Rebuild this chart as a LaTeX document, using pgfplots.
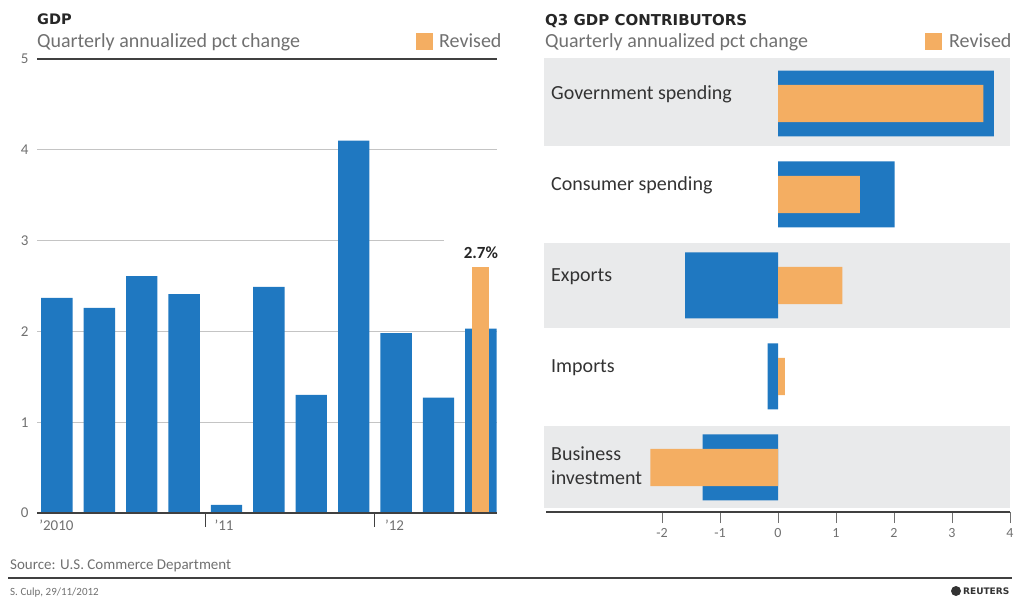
\documentclass[border=0pt]{standalone}
\usepackage{pgfplots}
\pgfplotsset{compat=1.18}
\usepackage{fontspec}
\setmainfont{Carlito}
\newfontfamily\titlefont{DejaVu Sans}
\definecolor{rblue}{HTML}{1F78C1}
\definecolor{rorange}{HTML}{F4AE62}
\definecolor{rband}{HTML}{E9EAEB}
\definecolor{rdark}{HTML}{404040}
\definecolor{rtext}{HTML}{707070}
\definecolor{rgrid}{HTML}{C4C4C4}
\definecolor{rlabel}{HTML}{333333}
\begin{document}
\begin{tikzpicture}
\path[use as bounding box] (0pt,0pt) rectangle (1017pt,598pt);
% ---------- titles ----------
\node[anchor=base west, inner sep=0, font=\titlefont\bfseries\fontsize{14.5}{14.5}\selectfont, text=black!85] at (37pt,573pt) {GDP};
\node[anchor=base west, inner sep=0, font=\fontsize{20}{20}\selectfont, text=rtext] at (37pt,550pt) {Quarterly annualized pct change};
\fill[rorange] (416pt,548pt) rectangle (433pt,565pt);
\node[anchor=base west, inner sep=0, font=\fontsize{20}{20}\selectfont, text=rtext] at (439pt,550pt) {Revised};
\node[anchor=base west, inner sep=0, font=\titlefont\bfseries\fontsize{15}{15}\selectfont, text=black!85] at (545pt,572pt) {Q3 GDP CONTRIBUTORS};
\node[anchor=base west, inner sep=0, font=\fontsize{20}{20}\selectfont, text=rtext] at (545pt,550pt) {Quarterly annualized pct change};
\fill[rorange] (925pt,548pt) rectangle (942pt,565pt);
\node[anchor=base west, inner sep=0, font=\fontsize{20}{20}\selectfont, text=rtext] at (949pt,550pt) {Revised};
% ---------- left chart ----------
\begin{axis}[
  at={(37pt,85pt)}, anchor=south west, scale only axis,
  width=460pt, height=454pt,
  xmin=-0.47, xmax=10.38, ymin=0, ymax=5,
  clip=false,
  axis line style={draw=none},
  xtick=\empty,
  ytick={0,1,2,3,4,5},
  major tick length=0pt,
  yticklabel style={text=rtext, font=\fontsize{15}{15}\selectfont, xshift=-5pt},
  /pgf/number format/assume math mode=true,
]
\draw[rgrid, line width=1pt] (axis cs:-0.47,1) -- (axis cs:10.38,1);
\draw[rgrid, line width=1pt] (axis cs:-0.47,2) -- (axis cs:10.38,2);
\draw[rgrid, line width=1pt] (axis cs:-0.47,3) -- (axis cs:9.14,3);
\draw[rgrid, line width=1pt] (axis cs:-0.47,4) -- (axis cs:10.38,4);
\addplot[ybar, bar width=0.74, bar shift=0pt, fill=rblue, draw=none]
  coordinates {(0,2.37)(1,2.26)(2,2.61)(3,2.41)(4,0.09)(5,2.49)(6,1.30)(7,4.10)(8,1.98)(9,1.27)(10,2.03)};
\addplot[ybar, bar width=0.40, bar shift=0pt, fill=rorange, draw=none]
  coordinates {(10,2.71)};
\draw[rdark, line width=2pt] (axis cs:-0.47,0) -- (axis cs:10.38,0);
\draw[rdark, line width=2.5pt] (axis cs:-0.47,5) -- (axis cs:10.38,5);
\draw[rdark, line width=1pt] (axis cs:3.5,0) -- ([yshift=-14pt]axis cs:3.5,0);
\draw[rdark, line width=1pt] (axis cs:7.5,0) -- ([yshift=-14pt]axis cs:7.5,0);
\node[anchor=north west, inner sep=0, text=rtext, font=\fontsize{15}{15}\selectfont] at ([yshift=-7pt]axis cs:-0.42,0) {’2010};
\node[anchor=north west, inner sep=0, text=rtext, font=\fontsize{15}{15}\selectfont] at ([xshift=9pt,yshift=-7pt]axis cs:3.5,0) {’11};
\node[anchor=north west, inner sep=0, text=rtext, font=\fontsize{15}{15}\selectfont] at ([xshift=10pt,yshift=-7pt]axis cs:7.5,0) {’12};
\node[anchor=south, inner sep=0, text=black!85, font=\bfseries\fontsize{17}{17}\selectfont] at ([yshift=8pt]axis cs:10,2.71) {2.7\%};
\end{axis}
% ---------- right chart ----------
\begin{axis}[
  at={(546pt,86pt)}, anchor=south west, scale only axis,
  width=464pt, height=454pt,
  xmin=-4, xmax=4, ymin=-0.49, ymax=4.5,
  clip=false,
  axis line style={draw=none},
  ytick=\empty,
  xtick={-2,-1,0,1,2,3,4},
  xtick pos=left,
  tick align=outside,
  major tick length=11pt,
  x tick style={rtext, line width=0.8pt},
  xticklabel style={text=rtext, font=\fontsize{14}{14}\selectfont, yshift=-2pt},
  /pgf/number format/assume math mode=true,
]
\fill[rband] (axis cs:-4.03,3.53) rectangle (axis cs:4,4.5);
\fill[rband] (axis cs:-4.03,1.53) rectangle (axis cs:4,2.47);
\fill[rband] (axis cs:-4.03,-0.45) rectangle (axis cs:4,0.45);
\addplot[xbar, bar width=0.725, bar shift=0pt, fill=rblue, draw=none]
  coordinates {(3.72,4)(2.01,3)(-1.60,2)(-0.18,1)(-1.30,0)};
\addplot[xbar, bar width=0.41, bar shift=0pt, fill=rorange, draw=none]
  coordinates {(3.54,4)(1.41,3)(1.11,2)(0.12,1)(-2.20,0)};
\draw[rdark, line width=2pt] (axis cs:-4,-0.49) -- (axis cs:4,-0.49);
\node[anchor=west, inner sep=0, text=rlabel, font=\fontsize{20}{20}\selectfont] at ([xshift=5pt,yshift=9pt]axis cs:-4,4) {Government spending};
\node[anchor=west, inner sep=0, text=rlabel, font=\fontsize{20}{20}\selectfont] at ([xshift=5pt,yshift=9pt]axis cs:-4,3) {Consumer spending};
\node[anchor=west, inner sep=0, text=rlabel, font=\fontsize{20}{20}\selectfont] at ([xshift=5pt,yshift=9pt]axis cs:-4,2) {Exports};
\node[anchor=west, inner sep=0, text=rlabel, font=\fontsize{20}{20}\selectfont] at ([xshift=5pt,yshift=9pt]axis cs:-4,1) {Imports};
\node[anchor=west, inner sep=0, align=left, text=rlabel, font=\fontsize{20}{24}\selectfont] at ([xshift=5pt,yshift=2pt]axis cs:-4,0) {Business\\investment};
\end{axis}
% ---------- footer ----------
\node[anchor=base west, inner sep=0, font=\fontsize{15}{15}\selectfont, text=rtext] at (10pt,29pt) {Source: U.S. Commerce Department};
\draw[rdark, line width=2.5pt] (8pt,20pt) -- (1012pt,20pt);
\node[anchor=base west, inner sep=0, font=\fontsize{11}{11}\selectfont, text=rtext] at (10pt,3pt) {S. Culp, 29/11/2012};
\fill[rlabel] (956pt,7pt) circle (5pt);
\node[anchor=base west, inner sep=0, font=\titlefont\bfseries\fontsize{9}{9}\selectfont, text=rlabel] at (963pt,3.5pt) {REUTERS};
\end{tikzpicture}
\end{document}
